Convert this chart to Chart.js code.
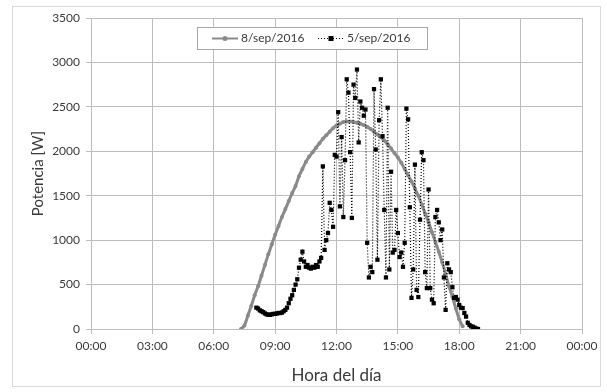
<!DOCTYPE html>
<html>
<head>
<meta charset="utf-8">
<script src="https://cdn.jsdelivr.net/npm/chart.js@4"></script>
<style>
  html, body { margin: 0; padding: 0; background: #fff; }
  #wrap { position: relative; width: 607px; height: 392px; }
</style>
</head>
<body>
<div id="wrap"><canvas id="chart" width="607" height="392"></canvas></div>
<script>
// Eixo X: horas do dia
const xTicks = [0, 3, 6, 9, 12, 15, 18, 21, 24];
const yTicks = [0, 500, 1000, 1500, 2000, 2500, 3000, 3500];

// 8/sep/2016 - dia de céu limpo (amostras a cada 10 min, a partir das 07:20)
const graySerieStart = '07:20';
const graySerieStep = 10;
const grayValues = [
  0, 40, 150, 260, 380, 480, 600, 720, 840, 950,
  1060, 1160, 1260, 1350, 1440, 1530, 1610, 1720, 1800, 1880,
  1940, 1990, 2040, 2090, 2140, 2180, 2220, 2260, 2290, 2310,
  2330, 2335, 2335, 2330, 2320, 2310, 2295, 2275, 2250, 2220,
  2190, 2160, 2120, 2080, 2030, 1980, 1930, 1870, 1800, 1730,
  1660, 1580, 1500, 1400, 1300, 1200, 1090, 980, 870, 750,
  620, 480, 360, 230, 110, 30
];

// 5/sep/2016 - dia nublado (amostras a cada 5 min, a partir das 08:05)
const blackSerieStart = '08:05';
const blackSerieStep = 5;
const blackValues = [
  240, 230, 210, 200, 190, 175, 165, 160, 160, 165, 170,
  170, 175, 180, 180, 185, 200, 215, 240, 290, 340, 380, 440,
  500, 560, 690, 780, 870, 760, 700, 720, 690, 680, 700, 690,
  720, 700, 760, 800, 1830, 890, 1000, 1080, 1420, 1340, 1150, 1960,
  1940, 2440, 1380, 2160, 1260, 1900, 2810, 2660, 1990, 1250, 2750, 2600,
  2920, 2100, 2560, 2490, 2400, 2470, 970, 580, 700, 640, 2700, 2020,
  780, 2350, 2810, 2170, 1340, 580, 2490, 670, 1770, 860, 890, 1340,
  1080, 810, 860, 700, 970, 2480, 2360, 1370, 350, 670, 1850, 440,
  360, 1230, 1990, 1900, 640, 460, 1570, 460, 330, 290, 1260, 1340,
  1200, 1000, 1120, 580, 215, 740, 670, 640, 470, 350, 360, 330,
  270, 240, 235, 180, 140, 70, 45, 30, 25, 15, 5, 0
];

const seriesNames = ['8/sep/2016', '5/sep/2016'];

function toHours(hhmm) {
  const p = hhmm.split(':');
  return Number(p[0]) + Number(p[1]) / 60;
}

function buildPoints(start, stepMin, values) {
  const t0 = toHours(start);
  return values.map((v, i) => ({ x: t0 + i * stepMin / 60, y: v }));
}

const GRAY = '#8a8a8a';
const TEXT = '#3a3a3a';
const GRID = '#bdbdbd';
const FONT = 'Lato, "Open Sans", sans-serif';

// Borda externa e legenda dentro da área do gráfico
const frame = {
  id: 'frame',
  beforeDraw(chart) {
    const c = chart.ctx;
    c.save();
    c.fillStyle = '#fff';
    c.fillRect(0, 0, chart.width, chart.height);
    c.strokeStyle = '#d9d9d9';
    c.lineWidth = 1;
    c.strokeRect(12.5, 6.5, 588, 380);
    c.restore();
  },
  afterDraw(chart) {
    const c = chart.ctx;
    c.save();
    const bx = 197.5, by = 27.5, bw = 230, bh = 22;
    c.fillStyle = '#fff';
    c.fillRect(bx, by, bw, bh);
    c.strokeStyle = '#a6a6a6';
    c.lineWidth = 1;
    c.strokeRect(bx, by, bw, bh);
    const my = by + bh / 2;

    // item 1
    c.strokeStyle = GRAY;
    c.lineWidth = 2;
    c.beginPath(); c.moveTo(212, my); c.lineTo(238, my); c.stroke();
    c.fillStyle = GRAY;
    c.beginPath(); c.arc(225, my, 2.5, 0, Math.PI * 2); c.fill();

    // item 2
    c.strokeStyle = '#000';
    c.lineWidth = 1.2;
    c.setLineDash([1, 2]);
    c.beginPath(); c.moveTo(318, my); c.lineTo(344, my); c.stroke();
    c.setLineDash([]);
    c.fillStyle = '#000';
    c.fillRect(328.5, my - 2.5, 5, 5);

    c.fillStyle = TEXT;
    c.font = '12px ' + FONT;
    c.textBaseline = 'middle';
    c.fillText(seriesNames[0], 241, my);
    c.fillText(seriesNames[1], 347, my);
    c.restore();
  }
};

const ctx = document.getElementById('chart').getContext('2d');
new Chart(ctx, {
  type: 'line',
  data: {
    datasets: [
      {
        label: seriesNames[1],
        data: buildPoints(blackSerieStart, blackSerieStep, blackValues),
        borderColor: '#000',
        backgroundColor: '#000',
        borderWidth: 1.2,
        borderDash: [1, 2],
        pointStyle: 'rect',
        pointRadius: 3,
        pointBorderWidth: 0,
        tension: 0
      },
      {
        label: seriesNames[0],
        data: buildPoints(graySerieStart, graySerieStep, grayValues),
        borderColor: GRAY,
        backgroundColor: GRAY,
        borderWidth: 3,
        pointStyle: 'circle',
        pointRadius: 2,
        pointBorderWidth: 0,
        tension: 0.3
      }
    ]
  },
  options: {
    responsive: false,
    animation: false,
    layout: { padding: { left: 29, top: 18, right: 25, bottom: 0 } },
    plugins: {
      legend: { display: false },
      tooltip: { enabled: false }
    },
    scales: {
      x: {
        type: 'linear',
        min: 0,
        max: 24,
        afterBuildTicks: s => { s.ticks = xTicks.map(v => ({ value: v })); },
        afterFit: s => { s.height = 63; },
        ticks: {
          color: TEXT,
          font: { family: FONT, size: 12 },
          padding: 5,
          maxRotation: 0,
          callback: v => String(v % 24).padStart(2, '0') + ':00'
        },
        grid: { color: GRID, tickLength: 5, drawTicks: true },
        border: { color: GRID },
        title: {
          display: true,
          text: 'Hora del día',
          color: TEXT,
          font: { family: FONT, size: 17 },
          padding: { top: 0, bottom: 6 }
        }
      },
      y: {
        min: 0,
        max: 3500,
        afterBuildTicks: s => { s.ticks = yTicks.map(v => ({ value: v })); },
        afterFit: s => { s.width = 62; },
        ticks: {
          color: TEXT,
          font: { family: FONT, size: 12 },
          padding: 6,
          callback: v => String(v)
        },
        grid: { color: GRID, tickLength: 5 },
        border: { color: GRID },
        title: {
          display: true,
          text: 'Potencia [W]',
          color: TEXT,
          font: { family: FONT, size: 15 },
          padding: { top: 0, bottom: 0 }
        }
      }
    }
  },
  plugins: [frame]
});
</script>
</body>
</html>
